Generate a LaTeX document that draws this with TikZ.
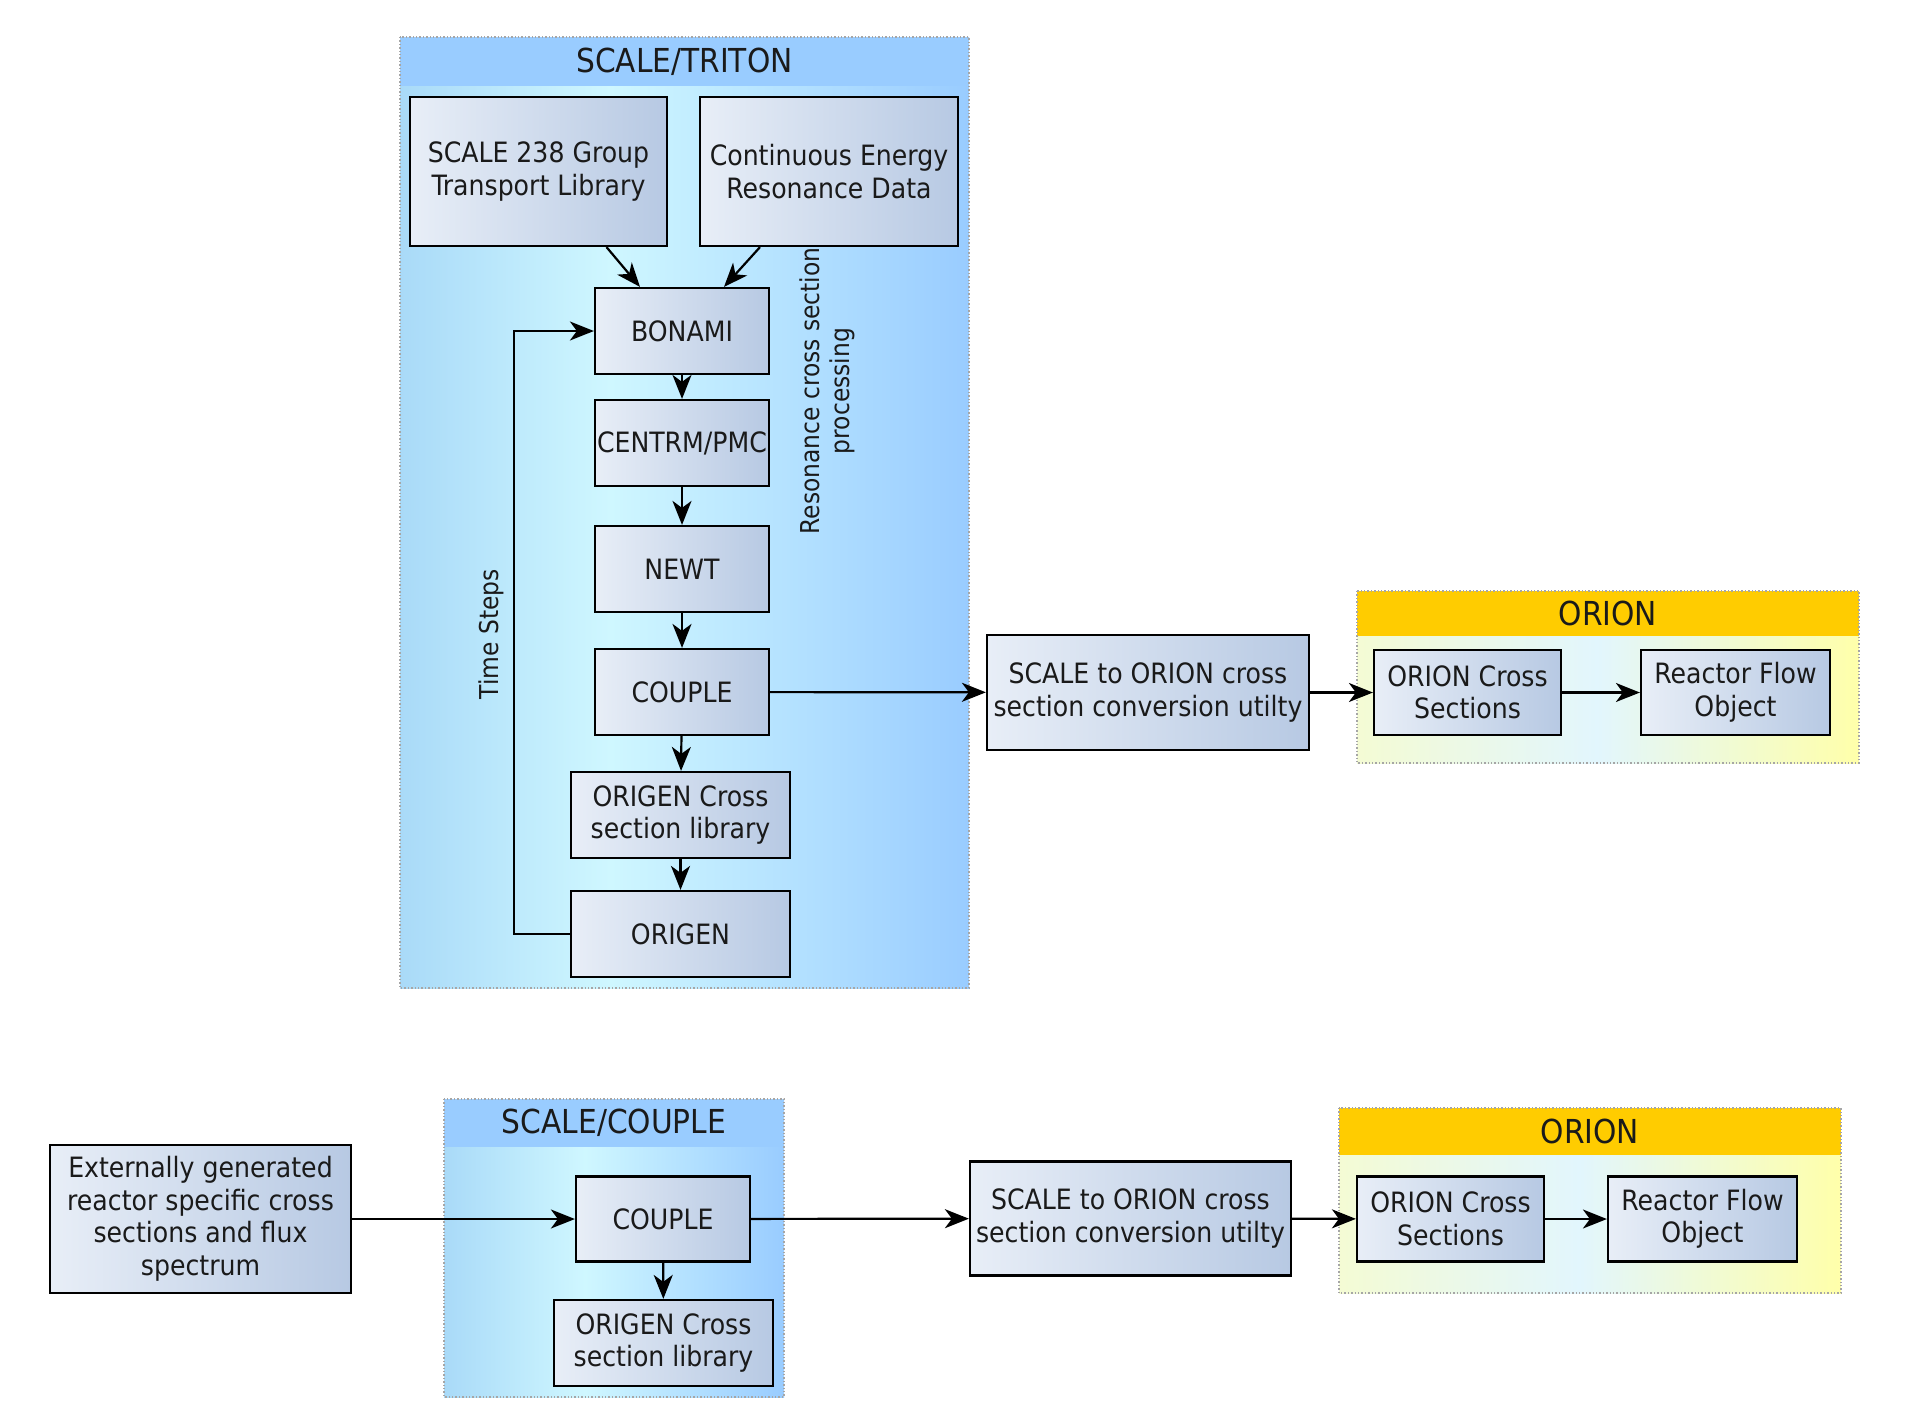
\documentclass[tikz,border=0pt]{standalone}
\usepackage{fontspec}
\setmainfont{DejaVu Sans Condensed}
\usetikzlibrary{arrows.meta}

\definecolor{boxlight}{HTML}{E8EEF7}
\definecolor{boxdark}{HTML}{B7C9E3}
\definecolor{grouphead}{HTML}{99CCFF}
\definecolor{groupside}{HTML}{A9DAF8}
\definecolor{groupmid}{HTML}{CFF7FF}
\definecolor{orionhead}{HTML}{FFCC00}
\definecolor{orionleft}{HTML}{F4FBD4}
\definecolor{orionmid}{HTML}{E2F6FD}
\definecolor{orionright}{HTML}{FFFFAA}
\definecolor{textdark}{HTML}{1A1A1A}

\tikzset{
  box/.style={draw=black, line width=2.2pt, left color=boxlight, right color=boxdark,
    align=center, inner sep=0pt, text=textdark, font=\fontsize{28}{32.5}\selectfont},
  flow/.style={line width=2.2pt, -{Stealth[length=24pt,width=19pt,inset=7pt]}},
  grouptitle/.style={text=textdark, font=\fontsize{33}{36}\selectfont},
  border/.style={draw=gray!70, dotted, line width=1.4pt},
  side/.style={rotate=90, align=center, text=textdark, font=\fontsize{26}{30}\selectfont}
}

\begin{document}
\begin{tikzpicture}[x=1pt,y=-1pt]
    \useasboundingbox (0,0) rectangle (1930,1424);
    \fill[white] (0,0) rectangle (1930,1424);

    % groups
    \shade[left color=groupside, right color=groupmid] (400,37) rectangle (610,988);
    \shade[left color=groupmid, right color=grouphead] (610,37) rectangle (969,988);
    \fill[grouphead] (400,37) rectangle (969,86);
    \draw[border] (400,37) rectangle (969,988);
    \node[grouptitle] (triton) at (684.5,61.5) {SCALE/TRITON};

    \shade[left color=groupside, right color=groupmid] (444,1099) rectangle (585,1397);
    \shade[left color=groupmid, right color=grouphead] (585,1099) rectangle (784,1397);
    \fill[grouphead] (444,1099) rectangle (784,1147);
    \draw[border] (444,1099) rectangle (784,1397);
    \node[grouptitle] (scouple) at (614,1123) {SCALE/COUPLE};

    \foreach \x/\y/\h/\b in {1357/591/636/763,1339/1108/1155/1293} {
      \shade[left color=orionleft, right color=orionmid] (\x,\y) rectangle (\x+240,\b);
      \shade[left color=orionmid, right color=orionright] (\x+240,\y) rectangle (\x+502,\b);
      \fill[orionhead] (\x,\y) rectangle (\x+502,\h);
      \draw[border] (\x,\y) rectangle (\x+502,\b);
    }
    \node[grouptitle] (orion) at (1608,613.5) {ORION};
    \node[grouptitle] (orion2) at (1590,1131.5) {ORION};

    % top chain
    \node[box, minimum width=257pt, minimum height=149pt] (lib) at (538.5,171.5) {SCALE 238 Group\\Transport Library};
    \node[box, minimum width=258pt, minimum height=149pt] (cont) at (829,171.5) {Continuous Energy\\Resonance Data};
    \node[box, minimum width=174pt, minimum height=86pt] (bonami) at (682,331) {BONAMI};
    \node[box, minimum width=174pt, minimum height=86pt] (centrm) at (682,443) {CENTRM/PMC};
    \node[box, minimum width=174pt, minimum height=86pt] (newt) at (682,569) {NEWT};
    \node[box, minimum width=174pt, minimum height=86pt] (couple) at (682,692) {COUPLE};
    \node[box, minimum width=219pt, minimum height=86pt] (oxs) at (680.5,815) {ORIGEN Cross\\section library};
    \node[box, minimum width=219pt, minimum height=86pt] (origen) at (680.5,934) {ORIGEN};
    \node[box, minimum width=322pt, minimum height=115pt] (conv) at (1148,692.5) {SCALE to ORION cross\\section conversion utilty};
    \node[box, minimum width=187pt, minimum height=85pt] (orionxs) at (1467.5,692.5) {ORION Cross\\Sections};
    \node[box, minimum width=189pt, minimum height=85pt] (flowobj) at (1735.5,692.5) {Reactor Flow\\Object};

    \node[side] (steps) at (491,634) {Time Steps};
    \node[side] (reso) at (827,391) {Resonance cross section\\processing};

    \draw[flow] ([xshift=68pt]lib.south) -- ([xshift=-42pt]bonami.north);
    \draw[flow] ([xshift=-69pt]cont.south) -- ([xshift=42pt]bonami.north);
    \draw[flow] (bonami) -- (centrm);
    \draw[flow] (centrm) -- (newt);
    \draw[flow] (newt) -- (couple);
    \draw[flow] (couple) -- (oxs);
    \draw[flow] (oxs) -- (origen);
    \draw[flow] (origen.west) -- ++(-56,0) |- (bonami.west);
    \draw[flow] (couple) -- (conv);
    \draw[flow] (conv) -- (orionxs);
    \draw[flow] (orionxs) -- (flowobj);

    % bottom chain
    \node[box, minimum width=301pt, minimum height=148pt] (ext) at (200.5,1219) {Externally generated\\reactor specific cross\\sections and flux\\spectrum};
    \node[box, minimum width=174pt, minimum height=85pt] (couple2) at (663,1219) {COUPLE};
    \node[box, minimum width=219pt, minimum height=86pt] (oxs2) at (663.5,1343) {ORIGEN Cross\\section library};
    \node[box, minimum width=321pt, minimum height=114pt] (conv2) at (1130.5,1218.5) {SCALE to ORION cross\\section conversion utilty};
    \node[box, minimum width=187pt, minimum height=85pt] (orionxs2) at (1450.5,1219) {ORION Cross\\Sections};
    \node[box, minimum width=189pt, minimum height=85pt] (flowobj2) at (1702.5,1219) {Reactor Flow\\Object};

    \draw[flow] (ext) -- (couple2);
    \draw[flow] (couple2) -- (oxs2);
    \draw[flow] (couple2) -- (conv2);
    \draw[flow] (conv2) -- (orionxs2);
    \draw[flow] (orionxs2) -- (flowobj2);
\end{tikzpicture}
\end{document}
